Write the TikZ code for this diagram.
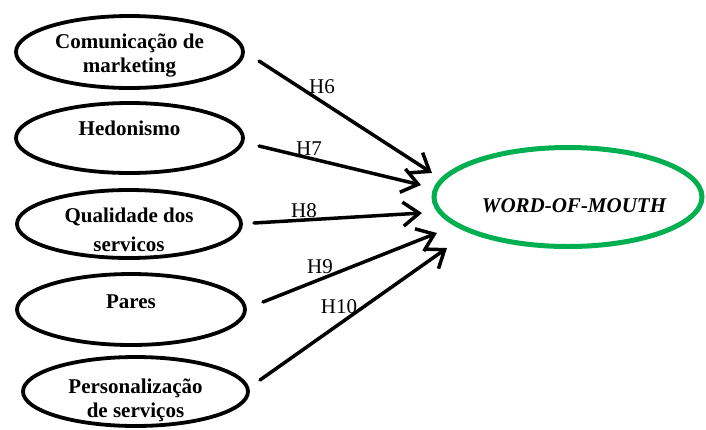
\documentclass[tikz,border=0pt]{standalone}
\usepackage{fontspec}
\setmainfont{Liberation Serif}
\usetikzlibrary{shapes.geometric,arrows.meta}
\definecolor{wgreen}{RGB}{0,176,80}
\begin{document}
\begin{tikzpicture}[x=1pt,y=-1pt,
  oval/.style={ellipse,draw=black,line width=3.8pt,inner sep=0pt},
  lbl/.style={font=\fontsize{21}{24}\selectfont\bfseries,anchor=base,inner sep=0pt},
  hyp/.style={font=\fontsize{21}{24}\selectfont,anchor=base,inner sep=0pt},
  link/.style={line width=3.5pt,line cap=round,-{Straight Barb[length=16pt,width=24pt,line width=3.5pt]}}]
\useasboundingbox (0,0) rectangle (706,429);
% source ellipses
\node[oval,minimum width=227pt,minimum height=72pt] (e1) at (129.5,52) {};
\node[oval,minimum width=227pt,minimum height=70pt] (e2) at (129.5,138) {};
\node[oval,minimum width=224pt,minimum height=68pt] (e3) at (129,224) {};
\node[oval,minimum width=228pt,minimum height=71pt] (e4) at (131,309.5) {};
\node[oval,minimum width=225pt,minimum height=69pt] (e5) at (135.5,391.5) {};
% target
\node[ellipse,draw=wgreen,line width=5pt,inner sep=0pt,minimum width=268pt,minimum height=99pt] (wom) at (568,197) {};
% texts
\node[lbl] (t1a) at (129.5,48) {Comunicação de};
\node[lbl] (t1b) at (129.5,72) {marketing};
\node[lbl] (t2) at (129.5,135) {Hedonismo};
\node[lbl] (t3a) at (129,222.5) {Qualidade dos};
\node[lbl] (t3b) at (129,251) {servicos};
\node[lbl] (t4) at (131,308) {Pares};
\node[lbl] (t5a) at (135.5,393) {Personalização};
\node[lbl] (t5b) at (135.5,417) {de serviços};
\node[lbl,font=\fontsize{21}{24}\selectfont\bfseries\itshape] (tw) at (574,212) {WORD-OF-MOUTH};
% connector end points
\coordinate (s6) at (259,61);
\coordinate (s7) at (259,146);
\coordinate (s8) at (254,223);
\coordinate (s9) at (263,302);
\coordinate (s10) at (260,380);
\coordinate (p6) at (432,173);
\coordinate (p7) at (421,185);
\coordinate (p8) at (422,213);
\coordinate (p9) at (437,233);
\coordinate (p10) at (447,248);
\draw[link] (s6) -- (p6);
\draw[link] (s7) -- (p7);
\draw[link] (s8) -- (p8);
\draw[link] (s9) -- (p9);
\draw[link] (s10) -- (p10);
% labels
\node[hyp] (h6) at (322,93) {H6};
\node[hyp] (h7) at (309,155) {H7};
\node[hyp] (h8) at (304,217) {H8};
\node[hyp] (h9) at (320,273) {H9};
\node[hyp] (h10) at (339,313) {H10};
\end{tikzpicture}
\end{document}
